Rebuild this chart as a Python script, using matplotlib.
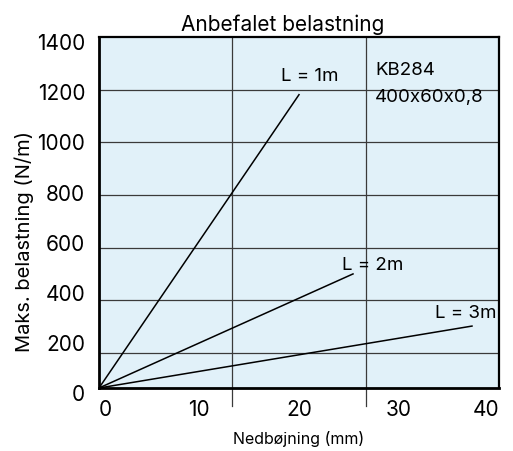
import numpy as np
import matplotlib.pyplot as plt
from matplotlib.transforms import ScaledTranslation

plt.rcParams['font.family'] = ['Inter', 'DejaVu Sans']

# Belastningskurver (nedbøjning mm, belastning N/m)
laengder = ['L = 1m', 'L = 2m', 'L = 3m']
nedbojning = [[0, 20.0], [0, 25.4], [0, 37.3]]
belastning = [[0, 1170], [0, 455], [0, 247]]

# tekstplacering for kurvenavne
navn_x = [21.1, 27.4, 36.7]
navn_y = [1245, 491, 303]

x_ticks = [0, 10, 20, 30, 40]
y_ticks = [0, 200, 400, 600, 800, 1000, 1200, 1400]
h_grid = [140, 350, 560, 770, 980, 1190]
v_grid = [40 / 3, 80 / 3]

fig = plt.figure(figsize=(5.13, 4.52), dpi=100)
ax = fig.add_axes([0.193, 0.1394, 0.7797, 0.7765])
ax.set_facecolor('#e1f1f9')

for y in h_grid:
    ax.axhline(y, color='#3a3a3a', linewidth=0.9, zorder=1)
for x in v_grid:
    ax.axvline(x, ymin=-0.052, ymax=1, color='#3a3a3a', linewidth=0.9,
               clip_on=False, zorder=1)

for xs, ys in zip(nedbojning, belastning):
    ax.plot(xs, ys, color='black', linewidth=1.1, zorder=3)

for navn, tx, ty in zip(laengder, navn_x, navn_y):
    ax.text(tx, ty, navn, ha='center', va='center', fontsize=13.5, zorder=4)

ax.text(27.6, 1272, 'KB284', ha='left', va='center', fontsize=13.5)
ax.text(27.6, 1161, '400x60x0,8', ha='left', va='center', fontsize=13.5)

ax.set_xlim(0, 40)
ax.set_ylim(0, 1400)
ax.set_xticks(x_ticks)
ax.set_yticks(y_ticks)
ax.tick_params(length=0, labelsize=15)
ax.tick_params(axis='y', pad=10)
ax.tick_params(axis='x', pad=8)

xl = ax.get_xticklabels()
xl[0].set_ha('left')
xl[-1].set_ha('right')
off = ScaledTranslation(0, -3 / 72, fig.dpi_scale_trans)
for lab in ax.get_yticklabels():
    lab.set_transform(lab.get_transform() + off)

for side in ['left', 'bottom']:
    ax.spines[side].set_linewidth(2.0)
for side in ['top', 'right']:
    ax.spines[side].set_linewidth(1.6)

ax.set_title('Anbefalet belastning', fontsize=15, pad=5, x=0.458)
ax.set_ylabel('Maks. belastning (N/m)', fontsize=14.5)
ax.yaxis.set_label_coords(-0.163, 0.42)
ax.set_xlabel('Nedbøjning (mm)', fontsize=11.5, labelpad=8)

plt.savefig('out.png', dpi=100)
